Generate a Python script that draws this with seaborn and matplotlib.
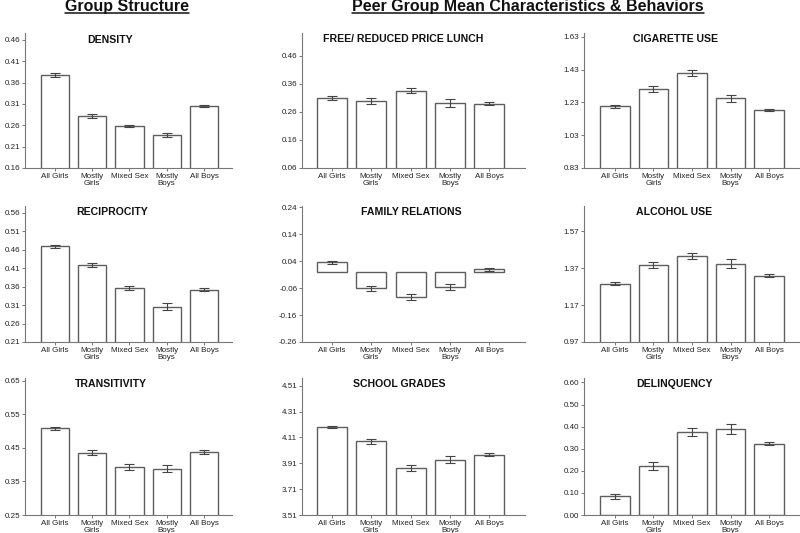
import numpy as np
import pandas as pd
import matplotlib
matplotlib.use("Agg")
import matplotlib.pyplot as plt
import seaborn as sns
from matplotlib.lines import Line2D

groups = ["All Girls", "Mostly\nGirls", "Mixed Sex", "Mostly\nBoys", "All Boys"]

# group structure
density = [0.378, 0.282, 0.258, 0.237, 0.305]
density_err = [0.004, 0.005, 0.003, 0.004, 0.003]
reciprocity = [0.469, 0.419, 0.356, 0.306, 0.351]
reciprocity_err = [0.004, 0.006, 0.006, 0.009, 0.004]
transitivity = [0.508, 0.436, 0.393, 0.388, 0.438]
transitivity_err = [0.004, 0.007, 0.008, 0.011, 0.005]

# peer group characteristics
lunch = [0.311, 0.298, 0.336, 0.291, 0.290]
lunch_err = [0.007, 0.011, 0.010, 0.014, 0.004]
family = [0.036, -0.061, -0.092, -0.056, 0.010]
family_err = [0.006, 0.010, 0.011, 0.012, 0.005]
grades = [4.192, 4.081, 3.873, 3.939, 3.976]
grades_err = [0.008, 0.020, 0.020, 0.026, 0.010]

# behaviors
cigarette = [1.206, 1.311, 1.409, 1.254, 1.185]
cigarette_err = [0.010, 0.020, 0.021, 0.020, 0.005]
alcohol = [1.286, 1.386, 1.437, 1.394, 1.328]
alcohol_err = [0.008, 0.015, 0.016, 0.024, 0.008]
delinquency = [0.084, 0.222, 0.375, 0.389, 0.323]
delinquency_err = [0.010, 0.017, 0.017, 0.024, 0.008]

density_ticks = [0.16, 0.21, 0.26, 0.31, 0.36, 0.41, 0.46]
reciprocity_ticks = [0.21, 0.26, 0.31, 0.36, 0.41, 0.46, 0.51, 0.56]
transitivity_ticks = [0.25, 0.35, 0.45, 0.55, 0.65]
lunch_ticks = [0.06, 0.16, 0.26, 0.36, 0.46]
family_ticks = [-0.26, -0.16, -0.06, 0.04, 0.14, 0.24]
grades_ticks = [3.51, 3.71, 3.91, 4.11, 4.31, 4.51]
cigarette_ticks = [0.83, 1.03, 1.23, 1.43, 1.63]
alcohol_ticks = [0.97, 1.17, 1.37, 1.57]
delinquency_ticks = [0.00, 0.10, 0.20, 0.30, 0.40, 0.50, 0.60]

sns.set_style("white")
plt.rcParams['font.family'] = ['Liberation Sans', 'DejaVu Sans']

W, H = 800, 533
fig = plt.figure(figsize=(W / 100, H / 100), dpi=100)

# pixel layout of the 3x3 grid
col_left = [25, 302, 584]
col_right = [232, 525, 800]
col_xlim = [(-0.8, 4.75), (-0.75, 4.9), (-0.8, 4.8)]
row_top = [33, 206, 378]
row_bottom = [168, 342, 515]

panels = [
    # (row, col, title, values, errors, ticks, ylim top, title x)
    (0, 0, "DENSITY", density, density_err, density_ticks, 0.476, 0.41),
    (1, 0, "RECIPROCITY", reciprocity, reciprocity_err, reciprocity_ticks, 0.578, 0.42),
    (2, 0, "TRANSITIVITY", transitivity, transitivity_err, transitivity_ticks, 0.658, 0.415),
    (0, 1, "FREE/ REDUCED PRICE LUNCH", lunch, lunch_err, lunch_ticks, 0.542, 0.455),
    (1, 1, "FAMILY RELATIONS", family, family_err, family_ticks, 0.245, 0.49),
    (2, 1, "SCHOOL GRADES", grades, grades_err, grades_ticks, 4.57, 0.435),
    (0, 2, "CIGARETTE USE", cigarette, cigarette_err, cigarette_ticks, 1.653, 0.425),
    (1, 2, "ALCOHOL USE", alcohol, alcohol_err, alcohol_ticks, 1.707, 0.415),
    (2, 2, "DELINQUENCY", delinquency, delinquency_err, delinquency_ticks, 0.62, 0.42),
]

edge = "#5e5e5e"
for row, col, title, vals, errs, ticks, ytop, tx in panels:
    l, r = col_left[col], col_right[col]
    t, b = row_top[row], row_bottom[row]
    ax = fig.add_axes([l / W, 1 - b / H, (r - l) / W, (b - t) / H])
    df = pd.DataFrame({"group": groups, "value": vals})
    sns.barplot(data=df, x="group", y="value", color="white", saturation=1,
                edgecolor=edge, linewidth=1.0, width=0.76, errorbar=None, ax=ax)
    centers = [p.get_x() + p.get_width() / 2 for p in ax.patches]
    ax.errorbar(centers, vals, yerr=errs, fmt="none", ecolor="#444444",
                elinewidth=0.8, capsize=3.4, capthick=0.8, zorder=3)
    ax.set_ylim(ticks[0], ytop)
    ax.set_xlim(*col_xlim[col])
    ax.set_yticks(ticks)
    ax.set_yticklabels([f"{v:.2f}" for v in ticks])
    ax.set_xlabel("")
    ax.set_ylabel("")
    for s in ["top", "right"]:
        ax.spines[s].set_visible(False)
    for s in ["left", "bottom"]:
        ax.spines[s].set_color("#777777")
        ax.spines[s].set_linewidth(0.8)
    ax.tick_params(axis="both", which="major", labelsize=5.8, colors="#777777",
                   labelcolor="#222222", length=2.2, width=0.7, pad=1.2,
                   direction="out", left=True, bottom=True)
    for lab in ax.get_xticklabels():
        lab.set_linespacing(1.05)
    ax.text(tx, 1 - (7 if row == 0 and col == 0 else 6) / (b - t), title,
            transform=ax.transAxes, ha="center", va="center",
            fontsize=7.6, fontweight="bold", color="#111111")
    ax.set_facecolor("white")

# section headers, underlined
headers = [("Group Structure", 127), ("Peer Group Mean Characteristics & Behaviors", 528)]
txts = []
for label, xc in headers:
    txts.append(fig.text(xc / W, 1 - 10.5 / H, label, ha="center", va="baseline",
                         fontsize=11.5, fontweight="bold", color="#111111"))
fig.canvas.draw()
inv = fig.transFigure.inverted()
for txt in txts:
    bb = txt.get_window_extent().transformed(inv)
    yl = 1 - 13 / H
    fig.add_artist(Line2D([bb.x0, bb.x1], [yl, yl], color="#111111", lw=1.1,
                          transform=fig.transFigure))

fig.savefig("out.png", dpi=100, facecolor="white")
